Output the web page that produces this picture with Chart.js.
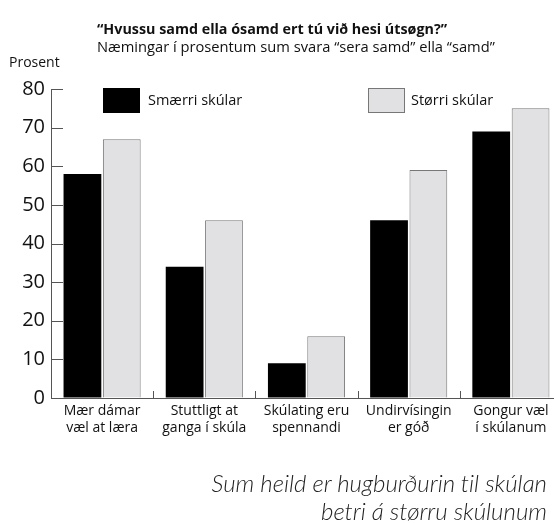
<!DOCTYPE html>
<html>
<head>
<meta charset="utf-8">
<script src="https://cdn.jsdelivr.net/npm/chart.js@4"></script>
<style>
  html, body { margin: 0; padding: 0; background: #fff; overflow: hidden; }
  #wrap { position: relative; width: 554px; height: 523px; overflow: hidden; font-family: "Open Sans", sans-serif; color: #111; }
  #chart { position: absolute; left: 0; top: 0; }
  .txt { position: absolute; white-space: nowrap; }
  .box { position: absolute; width: 37px; height: 25px; box-sizing: border-box; }
</style>
</head>
<body>
<div id="wrap">
  <canvas id="chart" width="564" height="523"></canvas>
  <div class="txt" style="left:97px; top:19px; font-size:14.3px; font-weight:700;">“Hvussu samd ella ósamd ert tú við hesi útsøgn?”</div>
  <div class="txt" style="left:97px; top:36px; font-size:14.7px;">Næmingar í prosentum sum svara “sera samd” ella “samd”</div>
  <div class="txt" style="left:9px; top:52px; font-size:14px;">Prosent</div>

  <div class="box" style="left:103px; top:88px; background:#000;"></div>
  <div class="txt" style="left:148px; top:90px; font-size:14.5px;">Smærri skúlar</div>
  <div class="box" style="left:368px; top:88px; background:#e1e1e3; border:1px solid #777;"></div>
  <div class="txt" style="left:411px; top:90px; font-size:14.5px;">Størri skúlar</div>

  <div class="txt" style="right:7px; top:469px; font-family:Lato, sans-serif; font-style:italic; font-weight:300; font-size:24px; font-variant-ligatures:none; color:#222; text-align:right; line-height:28px;">Sum heild er hugburðurin til skúlan<br>betri á størru skúlunum</div>
</div>
<script>
// data
var categories = [
    ["Mær dámar", "væl at læra"],
    ["Stuttligt at", "ganga í skúla"],
    ["Skúlating eru", "spennandi"],
    ["Undirvísingin", "er góð"],
    ["Gongur væl", "í skúlanum"]
];
var smaerri = [58, 34, 9, 46, 69];
var storri = [67, 46, 16, 59, 75];
var yTicks = [0, 10, 20, 30, 40, 50, 60, 70, 80];

// small inward tick marks on both axes
var innerTicks = {
    id: "innerTicks",
    beforeDatasetsDraw: function (chart) {
        var ctx = chart.ctx;
        var x = chart.scales.x, y = chart.scales.y;
        var area = chart.chartArea;
        ctx.save();
        ctx.strokeStyle = "#555";
        ctx.lineWidth = 1;
        ctx.beginPath();
        yTicks.forEach(function (v) {
            var py = Math.round(y.getPixelForValue(v)) + 0.5;
            ctx.moveTo(area.left, py);
            ctx.lineTo(area.left + 12, py);
        });
        for (var i = 1; i < categories.length; i++) {
            var px = Math.round((x.getPixelForTick(i - 1) + x.getPixelForTick(i)) / 2) + 0.5;
            ctx.moveTo(px, area.bottom);
            ctx.lineTo(px, area.bottom - 7);
        }
        ctx.stroke();
        ctx.restore();
    }
};

var config = {
    type: "bar",
    data: {
        labels: categories,
        datasets: [{
            label: "Smærri skúlar",
            data: smaerri,
            backgroundColor: "#000",
            borderWidth: 0
        }, {
            label: "Størri skúlar",
            data: storri,
            backgroundColor: "#e1e1e3",
            borderColor: "#777",
            borderWidth: 1
        }]
    },
    options: {
        responsive: false,
        animation: false,
        devicePixelRatio: 1,
        layout: { padding: { top: 89, right: 2, left: 0, bottom: 0 } },
        categoryPercentage: 0.77,
        barPercentage: 0.96,
        plugins: {
            legend: { display: false },
            tooltip: { enabled: false }
        },
        scales: {
            x: {
                grid: { display: true, drawOnChartArea: false, drawTicks: false, tickLength: 0 },
                border: { display: true, color: "#555", width: 1 },
                ticks: {
                    color: "#111",
                    padding: 5,
                    maxRotation: 0,
                    autoSkip: false,
                    font: { family: "Open Sans", size: 14 },
                    lineHeight: 1.45
                },
                afterFit: function (s) { s.height = 125; }
            },
            y: {
                min: 0,
                max: 80,
                grid: { display: true, drawOnChartArea: false, drawTicks: false, tickLength: 0 },
                border: { display: true, color: "#555", width: 1 },
                ticks: {
                    stepSize: 10,
                    color: "#111",
                    padding: 6,
                    font: { family: "Open Sans", size: 20 }
                },
                afterFit: function (s) { s.width = 51; }
            }
        }
    },
    plugins: [innerTicks]
};

var myChart = new Chart(document.getElementById("chart"), config);
</script>
</body>
</html>
